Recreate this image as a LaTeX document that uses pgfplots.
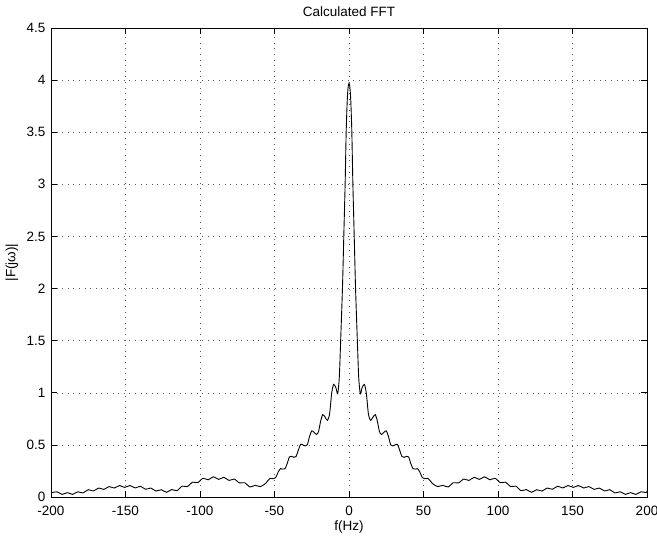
\documentclass[border=0pt]{standalone}
\usepackage{fontspec}
\setmainfont{Liberation Sans}
\usepackage{pgfplots}
\pgfplotsset{compat=1.18}
\pgfplotstableread{
f v
-200 0.055
-199.5 0.042
-196 0.05
-192.5 0.025
-189 0.042
-185.5 0.025
-182 0.05
-178.5 0.039
-175 0.07
-171.5 0.058
-168 0.086
-164.5 0.073
-161 0.10
-157.5 0.086
-154 0.11
-150.5 0.092
-147 0.11
-143.5 0.087
-140 0.103
-136.5 0.074
-133 0.086
-129.5 0.057
-126 0.07
-122.5 0.045
-119 0.072
-115.5 0.06
-112 0.104
-108.5 0.10
-105 0.142
-101.5 0.138
-98 0.18
-94.5 0.165
-91 0.194
-87.5 0.169
-84 0.189
-80.5 0.159
-77 0.172
-73.5 0.135
-70 0.137
-66.5 0.096
-63 0.112
-59.5 0.10
-56 0.13
-54.3 0.16
-52.8 0.18
-51.0 0.175
-49.3 0.185
-47.5 0.24
-46.0 0.272
-44.5 0.268
-43.0 0.27
-41.5 0.32
-40.0 0.385
-38.5 0.39
-37.0 0.38
-35.5 0.39
-34.0 0.45
-32.5 0.505
-31.0 0.50
-29.4 0.49
-28.0 0.50
-26.5 0.58
-25.0 0.635
-23.4 0.62
-21.8 0.60
-20.4 0.63
-19.0 0.73
-17.6 0.79
-16.0 0.765
-14.4 0.735
-13.0 0.80
-11.6 1.00
-10.3 1.08
-8.8 1.05
-7.6 0.99
-6.5 1.15
-5.6 1.50
-4.4 2.00
-3.5 2.50
-2.6 3.00
-1.9 3.50
-1.2 3.80
-0.6 3.93
0 3.97
0.6 3.93
1.2 3.80
1.9 3.50
2.6 3.00
3.5 2.50
4.4 2.00
5.6 1.50
6.5 1.15
7.6 0.99
8.8 1.05
10.3 1.08
11.6 1.00
13.0 0.80
14.4 0.735
16.0 0.765
17.6 0.79
19.0 0.73
20.4 0.63
21.8 0.60
23.4 0.62
25.0 0.635
26.5 0.58
28.0 0.50
29.4 0.49
31.0 0.50
32.5 0.505
34.0 0.45
35.5 0.39
37.0 0.38
38.5 0.39
40.0 0.385
41.5 0.32
43.0 0.27
44.5 0.268
46.0 0.272
47.5 0.24
49.3 0.185
51.0 0.175
52.8 0.18
54.3 0.16
56 0.13
59.5 0.10
63 0.112
66.5 0.096
70 0.137
73.5 0.135
77 0.172
80.5 0.159
84 0.189
87.5 0.169
91 0.194
94.5 0.165
98 0.18
101.5 0.138
105 0.142
108.5 0.10
112 0.104
115.5 0.06
119 0.072
122.5 0.045
126 0.07
129.5 0.057
133 0.086
136.5 0.074
140 0.103
143.5 0.087
147 0.11
150.5 0.092
154 0.11
157.5 0.086
161 0.10
164.5 0.073
168 0.086
171.5 0.058
175 0.07
178.5 0.039
182 0.05
185.5 0.025
189 0.042
192.5 0.025
196 0.05
199.5 0.042
200 0.06
}\fftdata
\begin{document}
\fontsize{13.5}{16}\selectfont
\begin{tikzpicture}
\begin{axis}[
  name=ax,
  scale only axis, width=596pt, height=469pt,
  xmin=-200, xmax=200, ymin=0, ymax=4.5,
  xtick={-200,-150,-100,-50,0,50,100,150,200},
  ytick={0,0.5,1,1.5,2,2.5,3,3.5,4,4.5},
  yticklabels={0,0.5,1,1.5,2,2.5,3,3.5,4,4.5},
  grid=major,
  grid style={black!65, line width=0.55pt, dash pattern=on 0.6pt off 5pt},
  tick align=inside, major tick length=6pt,
  tick style={black, line width=0.6pt},
  axis line style={line width=0.7pt},
  /pgf/number format/assume math mode=true,
  tick label style={font=\fontsize{13.5}{16}\selectfont},
  xticklabel style={yshift=-4pt},
  yticklabel style={xshift=-1pt},
  label style={font=\fontsize{13.5}{16}\selectfont},
  title style={font=\fontsize{13.5}{16}\selectfont, yshift=1pt},
  title={Calculated FFT},
  xlabel={f(Hz)},
  ylabel={|F(jω)|},
  xlabel style={yshift=4pt},
  ylabel style={yshift=-1pt},
]
\addplot[black, line width=0.9pt, smooth, tension=0.45] table[x=f, y=v] {\fftdata};
\end{axis}
\pgfresetboundingbox
\path[use as bounding box] ([shift={(-51pt,-43pt)}]ax.south west) rectangle ([shift={(10pt,28pt)}]ax.north east);
\end{tikzpicture}
\end{document}
